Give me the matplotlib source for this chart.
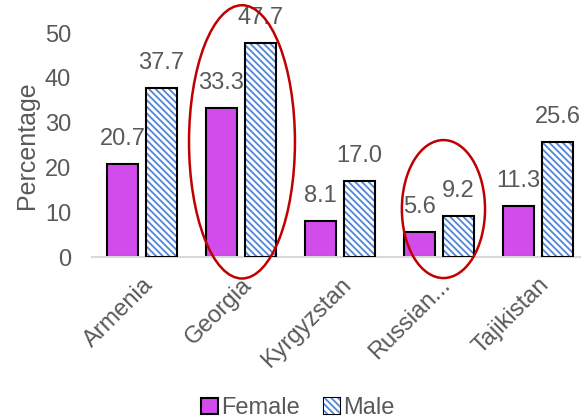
import numpy as np
import matplotlib as mpl
import matplotlib.pyplot as plt
from matplotlib.patches import Ellipse, Patch, Rectangle

mpl.rcParams['font.family'] = ['Liberation Sans', 'DejaVu Sans']
mpl.rcParams['hatch.linewidth'] = 1.3

# Share by country and sex (%)
countries = ['Armenia', 'Georgia', 'Kyrgyzstan', 'Russian...', 'Tajikistan']
female = [20.7, 33.3, 8.1, 5.6, 11.3]
male = [37.7, 47.7, 17.0, 9.2, 25.6]

purple = '#D24CEC'
blue = '#4F86D9'
grey = '#595959'
dark_red = '#C00000'
stripes = '\\' * 5
fs = 17

fig = plt.figure(figsize=(5.81, 4.19), dpi=100)
ax = fig.add_axes([92/581, 162/419, 496/581, 224/419])

x = np.arange(len(countries))
w = 0.315
off = 0.197

ax.bar(x - off, female, w, color=purple, edgecolor='black', linewidth=1.5, zorder=2)
# hatch drawn in blue first, black outline on top
ax.bar(x + off, male, w, color='white', edgecolor=blue, hatch=stripes, linewidth=0, zorder=2)
ax.bar(x + off, male, w, color='none', edgecolor='black', linewidth=1.5, zorder=3)

for xi, v in zip(x - off, female):
    ax.annotate(f'{v:.1f}', (xi, v), xytext=(0, 10), textcoords='offset points',
                ha='center', va='bottom', fontsize=fs, color=grey, annotation_clip=False)
for xi, v in zip(x + off, male):
    ax.annotate(f'{v:.1f}', (xi, v), xytext=(0, 10), textcoords='offset points',
                ha='center', va='bottom', fontsize=fs, color=grey, annotation_clip=False)

# highlight circles
ax.add_patch(Ellipse((1.01, 25.7), 1.07, 61, fill=False, edgecolor=dark_red,
                     linewidth=1.8, clip_on=False, zorder=4))
ax.add_patch(Ellipse((3.045, 10.7), 0.84, 30.8, fill=False, edgecolor=dark_red,
                     linewidth=1.8, clip_on=False, zorder=4))

ax.set_xlim(-0.505, 4.505)
ax.set_ylim(0, 50)
ax.set_yticks([0, 10, 20, 30, 40, 50])
ax.set_xticks(x)
ax.set_xticklabels(countries, rotation=45, ha='right', va='top', rotation_mode='anchor')
ax.tick_params(axis='both', length=0, labelsize=fs, labelcolor=grey)
ax.tick_params(axis='y', pad=15)
ax.tick_params(axis='x', pad=12)
ax.set_ylabel('Percentage', fontsize=18, color=grey, labelpad=4)

for s in ['top', 'right', 'left']:
    ax.spines[s].set_visible(False)
ax.spines['bottom'].set_color('#D9D9D9')
ax.spines['bottom'].set_linewidth(1.5)

handles = [Patch(facecolor=purple, edgecolor='black', linewidth=1.5, label='Female'),
           Patch(facecolor='white', edgecolor=blue, hatch=stripes, linewidth=0, label='Male')]
leg = fig.legend(handles=handles, loc='center', bbox_to_anchor=(0.513, 0.026), ncol=2,
                 frameon=False, fontsize=fs, handlelength=0.7, handleheight=0.7,
                 handletextpad=0.15, columnspacing=1.0, labelcolor=grey)
box = leg.legend_handles[1]
box.set_linewidth(0)
box.set_edgecolor(blue)

# black outline around the striped legend key
fig.canvas.draw()
bb = box.get_window_extent()
inv = fig.transFigure.inverted()
(x0, y0), (x1, y1) = inv.transform([[bb.x0, bb.y0], [bb.x1, bb.y1]])
fig.patches.append(Rectangle((x0, y0), x1 - x0, y1 - y0, transform=fig.transFigure,
                             facecolor='none', edgecolor='black', linewidth=1.5))

fig.savefig('out.png', dpi=100)
